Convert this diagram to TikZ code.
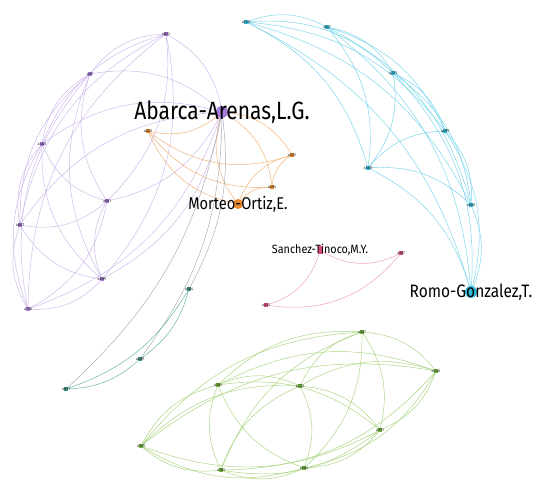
\documentclass[tikz,border=0pt]{standalone}
\usepackage{fontspec}
\newfontfamily\hubfont{Fira Sans}
\usetikzlibrary{backgrounds,calc}
\definecolor{purpN}{HTML}{A77BD8}
\definecolor{purpE}{HTML}{CDB6EC}
\definecolor{orN}{HTML}{E8892B}
\definecolor{orE}{HTML}{EFB070}
\definecolor{cyN}{HTML}{2FB8D8}
\definecolor{cyE}{HTML}{74D4EC}
\definecolor{pkN}{HTML}{DC4C78}
\definecolor{pkE}{HTML}{EC9CB4}
\definecolor{grN}{HTML}{6FB03A}
\definecolor{grE}{HTML}{A6D47C}
\definecolor{tlN}{HTML}{3A9A8A}
\definecolor{tlE}{HTML}{5FAFA2}
\definecolor{gyE}{HTML}{A4ACB4}
\tikzset{
  dot/.style={rectangle,inner sep=0pt,minimum size=4pt,fill=#1},
  lbl/.style={font=\hubfont\fontsize{4}{4.5}\selectfont,text=black!85},
  small/.style 2 args={dot=#1,label={[lbl]center:#2}},
  hub/.style={circle,inner sep=0pt,fill=#1},
  link/.style={draw=#1,line width=0.45pt},
}
% \outarc{colour}{a}{b}{centre}{angle}: arc from a to b bulging away from the centre
\newcommand\outarc[5]{%
  \path let \p1=(#2.center),\p2=(#3.center),\p3=(#4) in
    \pgfextra{\pgfmathsetmacro\crossv{((\x2-\x1)/100)*((\y3-0.5*\y1-0.5*\y2)/100)-((\y2-\y1)/100)*((\x3-0.5*\x1-0.5*\x2)/100)}%
      \xdef\crossv{\crossv}};
  \pgfmathsetmacro\bnd{\crossv>0 ? -#5 : #5}%
  \draw[link=#1] (#2.center) to[bend left=\bnd] (#3.center);
}
\begin{document}
\begin{tikzpicture}[x=1pt,y=-1pt]
\useasboundingbox (0,0) rectangle (537,487);

% purple group
\node[hub=purpN,minimum size=12pt,label={[font=\hubfont\fontsize{25}{26}\selectfont,xscale=0.84]center:Abarca-Arenas,L.G.}] (hA) at (222,112) {};
\node[small={purpN}{a822}] (p1) at (166,34) {};
\node[small={purpN}{a87}] (p2) at (90,74) {};
\node[small={purpN}{a468}] (p3) at (42,144) {};
\node[small={purpN}{a381}] (p4) at (107,201) {};
\node[small={purpN}{a807}] (p5) at (20,225) {};
\node[small={purpN}{a889}] (p6) at (102,279) {};
\node[small={purpN}{a726}] (p7) at (28,309) {};
\coordinate (pc) at (110,190);

% orange group
\node[hub=orN,minimum size=10pt,label={[font=\hubfont\fontsize{17}{18}\selectfont,xscale=0.86]center:Morteo-Ortiz,E.}] (hM) at (238,204) {};
\node[small={orN}{a463}] (o1) at (148,131) {};
\node[small={orN}{a392}] (o2) at (292,155) {};
\node[small={orN}{a494}] (o3) at (272,187) {};

% cyan group
\node[hub=cyN,minimum size=12pt,label={[font=\hubfont\fontsize{18}{19}\selectfont,xscale=0.86]center:Romo-Gonzalez,T.}] (hR) at (471,292) {};
\node[small={cyN}{a240}] (c1) at (246,22) {};
\node[small={cyN}{a547}] (c2) at (327,27) {};
\node[small={cyN}{a223}] (c3) at (393,73) {};
\node[small={cyN}{a499}] (c4) at (445,131) {};
\node[small={cyN}{a568}] (c5) at (368,168) {};
\node[small={cyN}{a550}] (c6) at (471,205) {};
\coordinate (cc) at (330,190);

% pink group
\node[hub=pkN,rectangle,minimum width=5pt,minimum height=8pt,label={[font=\hubfont\fontsize{12}{13}\selectfont,xscale=0.9]center:Sanchez-Tinoco,M.Y.}] (hS) at (320,250) {};
\node[small={pkN}{a367}] (s1) at (401,253) {};
\node[small={pkN}{a433}] (s2) at (266,305) {};

% teal group
\node[small={tlN}{a384}] (t1) at (189,289) {};
\node[small={tlN}{a289}] (t2) at (140,359) {};
\node[small={tlN}{a891}] (t3) at (66,389) {};

% green group
\node[small={grN}{a367}] (g1) at (362,332) {};
\node[small={grN}{a540}] (g2) at (436,371) {};
\node[small={grN}{a384}] (g3) at (218,385) {};
\node[small={grN}{a332}] (g4) at (300,386) {};
\node[small={grN}{a811}] (g5) at (380,430) {};
\node[small={grN}{a189}] (g6) at (141,446) {};
\node[small={grN}{a163}] (g7) at (221,470) {};
\node[small={grN}{a564}] (g8) at (304,468) {};
\coordinate (gc) at (300,412);

\begin{scope}[on background layer]
  \fill[white] (0,0) rectangle (537,487);
  % purple links
  \foreach \a/\b in {hA/p1,hA/p2,hA/p3,hA/p4,hA/p5,hA/p6,hA/p7,
      p1/p2,p1/p3,p1/p4,p1/p5,p1/p6,p1/p7,
      p2/p3,p2/p4,p2/p5,p2/p6,p2/p7,
      p3/p4,p3/p5,p3/p6,p3/p7,
      p4/p5,p4/p6,p4/p7,
      p5/p6,p5/p7,p6/p7}
    {\outarc{purpE}{\a}{\b}{pc}{26}}
  % orange links
  \foreach \a/\b in {o1/hA,o1/o2,o1/o3,o1/hM,o2/hA,o3/hA,hA/hM,o2/o3,o2/hM,o3/hM}
    \draw[link=orE] (\a.center) to[bend right=28] (\b.center);
  % cyan links
  \foreach \a/\b in {c1/c2,c1/c3,c1/c4,c1/c5,c1/c6,c1/hR,
      c2/c3,c2/c4,c2/c5,c2/c6,c2/hR,
      c3/c4,c3/c5,c3/c6,c3/hR,
      c4/c5,c4/c6,c4/hR,
      c5/c6,c5/hR,c6/hR}
    {\outarc{cyE}{\a}{\b}{cc}{24}}
  % pink links
  \foreach \a/\b in {hS/s1,s2/hS,s2/s1}
    \draw[link=pkE] (\a.center) to[bend right=30] (\b.center);
  % links to the teal group
  \foreach \a/\b in {hA/t1,hA/t2,hA/t3}
    \draw[link=gyE] (\a.center) to[bend left=18] (\b.center);
  \foreach \a/\b in {t1/t2,t2/t3,t1/t3}
    \draw[link=tlE] (\a.center) to[bend left=20] (\b.center);
  % green links
  \foreach \a/\b in {g1/g2,g1/g3,g1/g4,g1/g5,g1/g6,g1/g7,g1/g8,
      g2/g3,g2/g4,g2/g5,g2/g6,g2/g7,g2/g8,
      g3/g4,g3/g5,g3/g6,g3/g7,g3/g8,
      g4/g5,g4/g6,g4/g7,g4/g8,
      g5/g6,g5/g7,g5/g8,
      g6/g7,g6/g8,g7/g8}
    {\outarc{grE}{\a}{\b}{gc}{24}}
\end{scope}
\end{tikzpicture}
\end{document}
